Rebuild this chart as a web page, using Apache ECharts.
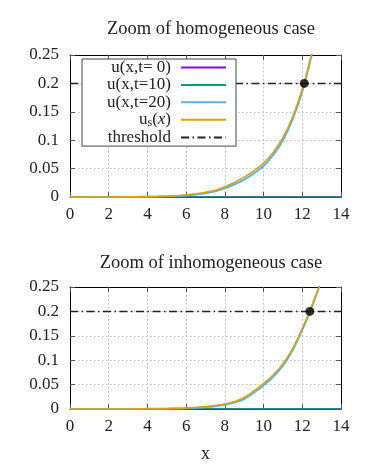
<!DOCTYPE html>
<html><head><meta charset="utf-8">
<script src="https://cdn.jsdelivr.net/npm/echarts@6/dist/echarts.min.js"></script>
<style>html,body{margin:0;padding:0;background:#fff}#c{width:373px;height:467px}</style>
</head><body><div id="c"></div>
<script>
// ---- data ----
const xTop = [0,0.5,1,1.5,2,2.5,3,3.5,4,4.5,5,5.5,6,6.5,7,7.5,8,8.5,9,9.5,10,10.5,11,11.5,12,12.5,13];
const usTop  = [0,0,0.0001,0.0001,0.0001,0.0002,0.0003,0.0004,0.0006,0.0010,0.0015,0.0024,0.0037,0.0056,0.0082,0.0120,0.0180,0.0260,0.0350,0.0460,0.0600,0.0790,0.1050,0.1410,0.1900,0.2550,0.3400];
const t20Top = [0,0,0,0,0,0,0.0001,0.0002,0.0004,0.0007,0.0011,0.0018,0.0028,0.0043,0.0066,0.0100,0.0152,0.0224,0.0308,0.0415,0.0550,0.0740,0.1000,0.1370,0.1860,0.2520,0.3400];
const xBot = [0,0.5,1,1.5,2,2.5,3,3.5,4,4.5,5,5.5,6,6.5,7,7.5,8,8.5,9,9.5,10,10.5,11,11.5,12,12.5,13];
const usBot  = [0,0,0,0.0001,0.0001,0.0001,0.0002,0.0003,0.0004,0.0006,0.0009,0.0014,0.0020,0.0032,0.0050,0.0072,0.0102,0.0152,0.0235,0.0370,0.0525,0.0700,0.0930,0.1240,0.1650,0.2120,0.2650];
const t20Bot = [0,0,0,0,0,0,0.0001,0.0002,0.0003,0.0004,0.0006,0.0010,0.0015,0.0024,0.0039,0.0058,0.0085,0.0130,0.0205,0.0332,0.0488,0.0662,0.0890,0.1205,0.1620,0.2100,0.2650];
const xFlat = [0,14];
const t0Flat = [0,0];
const t10Flat = [0,0];
const thresholdValue = 0.2;
const crossTop = [12.1, 0.2];
const crossBot = [12.39, 0.2];
const xTicks = [0,2,4,6,8,10,12,14];
const yTicks = [0,0.05,0.1,0.15,0.2,0.25];
const titles = ['Zoom of homogeneous case','Zoom of inhomogeneous case'];
const names = ['u(x,t= 0)','u(x,t=10)','u(x,t=20)','u_s(x)','threshold'];
const colors = ['#9400D3','#009E73','#56B4E9','#E69F00','#222222'];

const FONT = '"Liberation Serif", "DejaVu Serif", serif';
const zip = (xs, ys) => xs.map((x, i) => [x, ys[i]]);

const grids = [
  {left: 70, right: 32, top: 55, height: 142},
  {left: 70, right: 32, top: 287, height: 122}
];
function xAx(g, main) {
  return {
    type: 'value', gridIndex: g, min: xTicks[0], max: xTicks[xTicks.length-1], interval: 2,
    position: main ? 'bottom' : 'top',
    axisLine: {show: true, onZero: false, lineStyle: {color: '#000', width: 1}},
    axisTick: {show: true, inside: true, length: 5, lineStyle: {color: '#555'}},
    axisLabel: {show: main, color: '#222', fontFamily: FONT, fontSize: 17, margin: 9},
    splitLine: {show: main, lineStyle: {color: '#bbb', type: [1.5, 2.5], width: 1}},
    name: (main && g === 1) ? 'x' : '', nameLocation: 'middle', nameGap: 36,
    nameTextStyle: {color: '#222', fontFamily: FONT, fontSize: 18}
  };
}
function yAx(g, main) {
  return {
    type: 'value', gridIndex: g, min: yTicks[0], max: yTicks[yTicks.length-1], interval: 0.05,
    position: main ? 'left' : 'right',
    axisLine: {show: true, onZero: false, lineStyle: {color: '#000', width: 1}},
    axisTick: {show: true, inside: true, length: 5, lineStyle: {color: '#555'}},
    axisLabel: {show: main, color: '#222', fontFamily: FONT, fontSize: 17, margin: 11,
      formatter: v => (Math.round(v*100)/100).toString()},
    splitLine: {show: main, lineStyle: {color: '#bbb', type: [1.5, 2.5], width: 1}}
  };
}
function lineS(name, data, color, xi, yi, width, z, dash, smooth) {
  return {
    name: name, type: 'line', xAxisIndex: xi, yAxisIndex: yi, data: data,
    symbol: 'none', showSymbol: false, smooth: smooth || false,
    clip: true, z: z, animation: false,
    lineStyle: {color: color, width: width, type: dash || 'solid'},
    itemStyle: {color: color}
  };
}
const dashPat = [8, 3.5, 1.5, 3.5];
const series = [];
[[0, 0], [1, 1]].forEach(([xi, yi], k) => {
  const xs = k === 0 ? xTop : xBot;
  const us = k === 0 ? usTop : usBot;
  const t20 = k === 0 ? t20Top : t20Bot;
  series.push(lineS(names[4], zip(xFlat, [thresholdValue, thresholdValue]), colors[4], xi, yi, 1.5, 2, dashPat));
  series.push(lineS(names[0], zip(xFlat, t0Flat), colors[0], xi, yi, 1.5, 3));
  series.push(lineS(names[1], zip(xFlat, t10Flat), colors[1], xi, yi, 1.5, 4));
  series.push(lineS(names[2], zip(xs, t20), colors[2], xi, yi, 2, 5, null, 0.25));
  series.push(lineS(names[3], zip(xs, us), colors[3], xi, yi, 1.5, 6, null, 0.25));
  series.push({
    type: 'scatter', xAxisIndex: xi, yAxisIndex: yi, data: [k === 0 ? crossTop : crossBot],
    symbol: 'circle', symbolSize: 9, itemStyle: {color: '#000'}, z: 7, animation: false, silent: true
  });
});

const chart = echarts.init(document.getElementById('c'), null, {renderer: 'canvas'});
chart.setOption({
  animation: false,
  backgroundColor: '#fff',
  title: [
    {text: titles[0], left: 206, top: 15, textAlign: 'center',
      textStyle: {fontFamily: FONT, fontWeight: 'normal', fontSize: 18.5, color: '#222'}},
    {text: titles[1], left: 206, top: 249, textAlign: 'center',
      textStyle: {fontFamily: FONT, fontWeight: 'normal', fontSize: 18.5, color: '#222'}}
  ],
  grid: grids,
  xAxis: [xAx(0, true), xAx(1, true), xAx(0, false), xAx(1, false)],
  yAxis: [yAx(0, true), yAx(1, true), yAx(0, false), yAx(1, false)],
  legend: {
    data: [names[0], names[1], names[2], names[3], names[4]],
    orient: 'vertical', align: 'right', left: 82, top: 59,
    itemWidth: 45, itemHeight: 10, itemGap: 0.4,
    padding: [0, 9, 0, 11],
    backgroundColor: '#fff', borderColor: '#444', borderWidth: 1, borderRadius: 0,
    selectedMode: false,
    itemStyle: {opacity: 0},
    textStyle: {
      fontFamily: FONT, fontSize: 17, color: '#222', lineHeight: 16.2,
      width: 78, align: 'right', padding: [0, 5, 0, 0],
      rich: {
        n: {fontFamily: FONT, fontSize: 17, color: '#222'},
        sub: {fontFamily: FONT, fontSize: 12, color: '#222', padding: [6, 0, 0, 0]},
        it: {fontFamily: FONT, fontSize: 17, fontStyle: 'italic', color: '#222'}
      }
    },
    formatter: function (n) {
      if (n === 'u_s(x)') return '{n|u}{sub|s}{n|(}{it|x}{n|)}';
      return n;
    }
  },
  series: series
});
</script>
</body></html>
